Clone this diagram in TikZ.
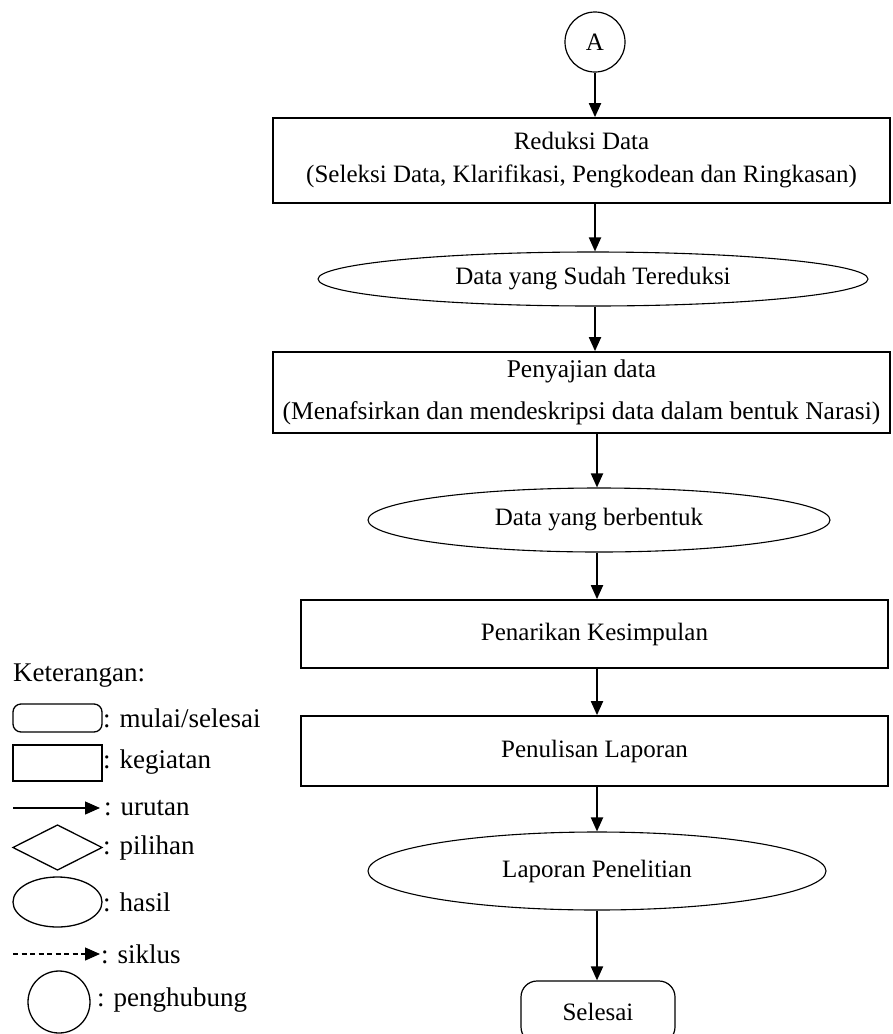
\documentclass[tikz,border=0pt]{standalone}
\usepackage{fontspec}
\setmainfont{Liberation Serif}
\usetikzlibrary{shapes.geometric,arrows.meta}

\begin{document}
\begin{tikzpicture}[x=1pt,y=-1pt,
  flow/.style={font=\fontsize{25}{33}\selectfont},
  procbox/.style={draw,line width=1.7pt,rectangle,inner sep=0pt,align=center,flow},
  result/.style={draw,line width=1.1pt,ellipse,inner sep=0pt,flow},
  terminal/.style={draw,line width=1.2pt,rectangle,rounded corners=16pt,inner sep=0pt,flow},
  connector/.style={draw,line width=1.2pt,circle,inner sep=0pt,flow},
  arr/.style={line width=1.9pt,-{Triangle[length=14pt,width=12pt]}},
  legtext/.style={font=\fontsize{27}{32}\selectfont,anchor=west,inner sep=0pt},
  legshape/.style={draw,line width=1.3pt,inner sep=0pt},
  legarr/.style={line width=1.2pt,-{Triangle[length=15pt,width=13pt]}},
]
\useasboundingbox (0,0) rectangle (893,1034);
\clip (0,0) rectangle (893,1034);

% flowchart
\node[connector,minimum size=60pt] (A) at (595,42) {A};
\node[procbox,minimum width=617pt,minimum height=85pt] (b1) at (581.5,160.5)
  {Reduksi Data\\(Seleksi Data, Klarifikasi, Pengkodean dan Ringkasan)};
\node[result,minimum width=550pt,minimum height=54pt] (e1) at (593,279) {Data yang Sudah Tereduksi};
\node[procbox,minimum width=617pt,minimum height=81pt,font=\fontsize{25.5}{42}\selectfont] (b2) at (581.5,392.5)
  {Penyajian data\\(Menafsirkan dan mendeskripsi data dalam bentuk Narasi)};
\node[result,minimum width=462pt,minimum height=64pt] (e2) at (599,520) {Data yang berbentuk};
\node[procbox,minimum width=587pt,minimum height=68pt] (b3) at (594.5,634) {Penarikan Kesimpulan};
\node[procbox,minimum width=587pt,minimum height=70pt] (b4) at (594.5,751) {Penulisan Laporan};
\node[result,minimum width=458pt,minimum height=78pt] (e3) at (597,871) {Laporan Penelitian};
\node[terminal,minimum width=154pt,minimum height=62pt] (end) at (598,1012) {Selesai};

\draw[arr] (A.south) -- (A.south |- b1.north);
\draw[arr] (b1.south -| A) -- (e1.north -| A);
\draw[arr] (e1.south -| A) -- (b2.north -| A);
\draw[arr] (b2.south -| e3) -- (e2.north -| e3);
\draw[arr] (e2.south -| e3) -- (b3.north -| e3);
\draw[arr] (b3.south -| e3) -- (b4.north -| e3);
\draw[arr] (b4.south -| e3) -- (e3.north);
\draw[arr] (e3.south) -- (end.north -| e3);

% legend
\node[legtext] (ket) at (13,676) {Keterangan:};
\node[legshape,rectangle,rounded corners=8pt,minimum width=89pt,minimum height=28pt] (lterm) at (57.5,718) {};
\node[legtext] (tterm) at (103,718) {: mulai/selesai};
\node[legshape,rectangle,minimum width=89pt,minimum height=36pt] (lproc) at (57.5,763) {};
\node[legtext] (tproc) at (103,762) {: kegiatan};
\coordinate (la1) at (13,808);
\coordinate (la2) at (100,808);
\draw[legarr] (la1) -- (la2);
\node[legtext] (tarr) at (104,808) {: urutan};
\coordinate (dl) at (13,847.5);
\coordinate (dt) at (57.5,825);
\coordinate (dr) at (102,847.5);
\coordinate (db) at (57.5,870);
\draw[line width=1.3pt] (dl) -- (dt) -- (dr) -- (db) -- cycle;
\node[legtext] (tdec) at (103,848) {: pilihan};
\node[legshape,ellipse,minimum width=89pt,minimum height=50pt] (lres) at (57.5,902) {};
\node[legtext] (tres) at (103,902) {: hasil};
\coordinate (ld1) at (13,954);
\coordinate (ld2) at (100,954);
\draw[legarr,dash pattern=on 5pt off 3.5pt] (ld1) -- (ld2);
\node[legtext] (tcyc) at (101,954) {: siklus};
\node[legshape,circle,minimum size=62pt] (lcon) at (59,1002) {};
\node[legtext] (tcon) at (97,1000) {: penghubung};
\end{tikzpicture}
\end{document}
